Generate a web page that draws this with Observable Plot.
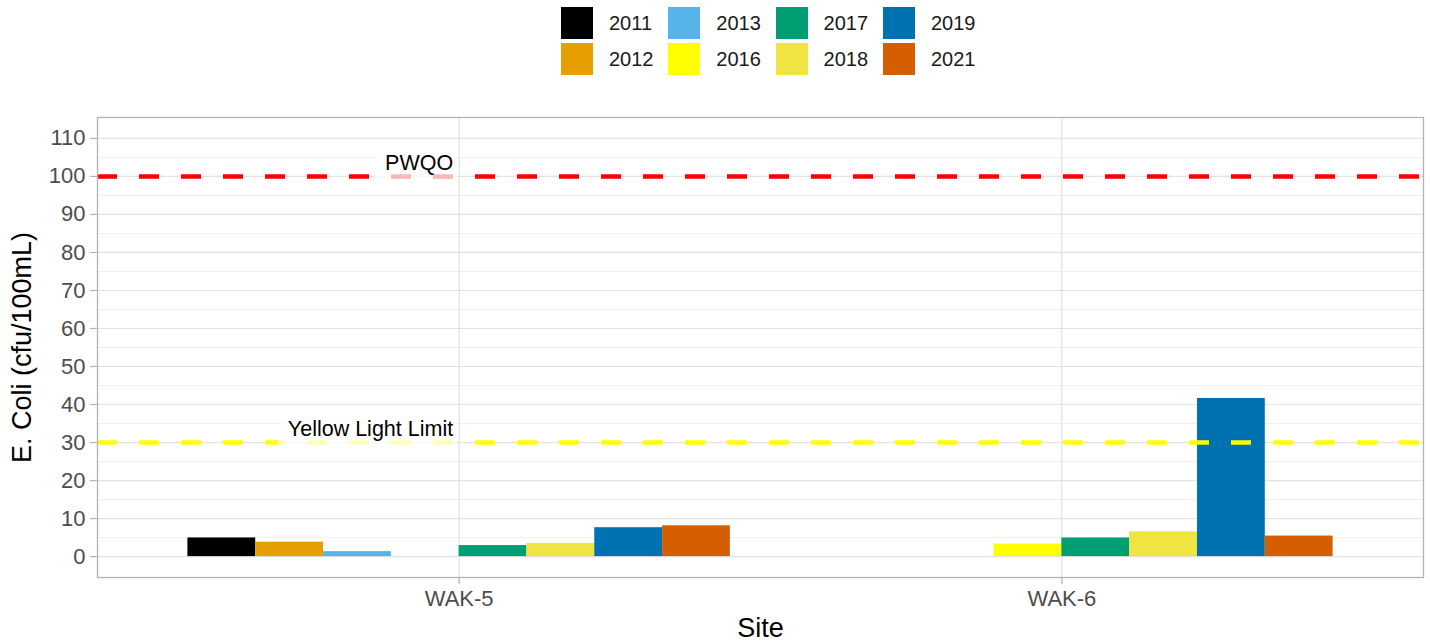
<!DOCTYPE html>
<html>
<head>
<meta charset="utf-8">
<script src="https://cdn.jsdelivr.net/npm/d3@7"></script>
<script src="https://cdn.jsdelivr.net/npm/@observablehq/plot@0.6"></script>
<style>
  body { margin: 0; background: #fff; font-family: "Liberation Sans", Arial, sans-serif; }
  #legend { position: relative; width: 1430px; height: 90px; }
  #legend .grid { position: absolute; left: 561px; top: 7px; display: grid;
    grid-template-rows: 32px 32px; row-gap: 4px; grid-auto-flow: column; grid-auto-columns: 107.3px; }
  #legend .item { display: flex; align-items: center; font-size: 20px; color: #1a1a1a; }
  #legend .sw { width: 32px; height: 32px; margin-right: 16px; }
  svg g[aria-label$="-axis tick"] { stroke: #b3b3b3; }
  svg g[aria-label$="-axis tick label"] { fill: #4d4d4d; }
</style>
</head>
<body>
<div id="legend"><div class="grid"></div></div>
<div id="chart"></div>
<script>
// ---- data ----
const sites = ["WAK-5", "WAK-6"];
const years = ["2011", "2012", "2013", "2016", "2017", "2018", "2019", "2021"];
const yearColors = ["#000000", "#E69F00", "#56B4E9", "#FFFF00", "#009E73", "#F0E442", "#0072B2", "#D55E00"];
const wak5Values = [4.9, 3.8, 1.3, null, 2.9, 3.5, 7.6, 8.1];
const wak6Values = [null, null, null, 3.3, 4.9, 6.5, 41.6, 5.4];
const refLabels = ["PWQO", "Yellow Light Limit"];
const refValues = [100, 30];
const refColors = ["#FF0000", "#FFFF00"];
const refAnchorSite = "WAK-5";
const yTicks = [0, 10, 20, 30, 40, 50, 60, 70, 80, 90, 100, 110];
const yMinorTicks = [5, 15, 25, 35, 45, 55, 65, 75, 85, 95, 105];
const yLabel = "E. Coli (cfu/100mL)";
const xLabel = "Site";

// ---- tables built from the arrays ----
const seriesBySite = [wak5Values, wak6Values];
const rows = [];
sites.forEach((s, si) => seriesBySite[si].forEach((v, yi) => {
  if (v != null) rows.push({site: s, year: years[yi], value: v});
}));
const refs = refLabels.map((l, i) => ({label: l, value: refValues[i], color: refColors[i], site: refAnchorSite}));
const siteIndex = s => sites.indexOf(s) + 1;
const groupWidth = 0.9;
const slotW = groupWidth / years.length;

// ---- legend ----
const lg = document.querySelector("#legend .grid");
years.forEach((y, i) => {
  const it = document.createElement("div");
  it.className = "item";
  it.innerHTML = `<div class="sw" style="background:${yearColors[i]}"></div><span>${y}</span>`;
  lg.appendChild(it);
});

// ---- chart ----
const chart = Plot.plot({
  width: 1430,
  height: 552,
  marginTop: 27,
  marginBottom: 65,
  marginLeft: 97,
  marginRight: 7,
  style: {fontFamily: "'Liberation Sans', Arial, sans-serif", background: "white", color: "#4d4d4d"},
  x: {domain: [0.4, 2.6]},
  y: {domain: [-5.5, 115.5]},
  color: {domain: years, range: yearColors},
  marks: [
    Plot.ruleY(yMinorTicks, {stroke: "#efefef", strokeWidth: 1}),
    Plot.ruleY(yTicks, {stroke: "#e2e2e2", strokeWidth: 1.2}),
    Plot.ruleX(sites, {x: d => siteIndex(d), stroke: "#e2e2e2", strokeWidth: 1.2}),
    Plot.rectY(rows, {
      x1: d => siteIndex(d.site) - groupWidth / 2 + years.indexOf(d.year) * slotW,
      x2: d => siteIndex(d.site) - groupWidth / 2 + (years.indexOf(d.year) + 1) * slotW,
      y: "value",
      fill: "year"
    }),
    Plot.ruleY(refs, {y: "value", stroke: d => d.color, strokeWidth: 4.5, strokeDasharray: "20 22"}),
    Plot.text(refs, {
      x: d => siteIndex(d.site), y: "value", text: "label",
      textAnchor: "end", lineAnchor: "bottom", dx: -6, dy: -6.5,
      fontSize: 21.5, fill: "black"
    }),
    Plot.frame({stroke: "#b3b3b3", strokeWidth: 1.3}),
    Plot.axisY({ticks: yTicks, tickSize: 7, tickPadding: 5, fontSize: 22, label: null, strokeWidth: 1.2}),
    Plot.axisX({ticks: [1, 2], tickFormat: d => sites[d - 1], tickSize: 7, tickPadding: 6, fontSize: 22, label: null, strokeWidth: 1.2}),
    Plot.text([yLabel], {text: d => d, frameAnchor: "left", rotate: -90, dx: -75, fontSize: 27, fill: "black", textAnchor: "middle", lineAnchor: "middle"}),
    Plot.text([xLabel], {text: d => d, frameAnchor: "bottom", dy: 51, fontSize: 27, fill: "black", textAnchor: "middle", lineAnchor: "middle"})
  ]
});
document.getElementById("chart").appendChild(chart);

// label boxes (semi-transparent white) behind reference labels
chart.querySelectorAll("text").forEach(t => {
  if (!refLabels.includes(t.textContent)) return;
  const b = t.getBBox();
  const r = document.createElementNS("http://www.w3.org/2000/svg", "rect");
  r.setAttribute("x", b.x - 10);
  r.setAttribute("y", b.y - 4);
  r.setAttribute("width", b.width + 14);
  r.setAttribute("height", b.height + 8);
  r.setAttribute("fill", "white");
  r.setAttribute("fill-opacity", "0.72");
  r.setAttribute("stroke", "none");
  if (t.getAttribute("transform")) r.setAttribute("transform", t.getAttribute("transform"));
  t.parentNode.insertBefore(r, t);
});
</script>
</body>
</html>
